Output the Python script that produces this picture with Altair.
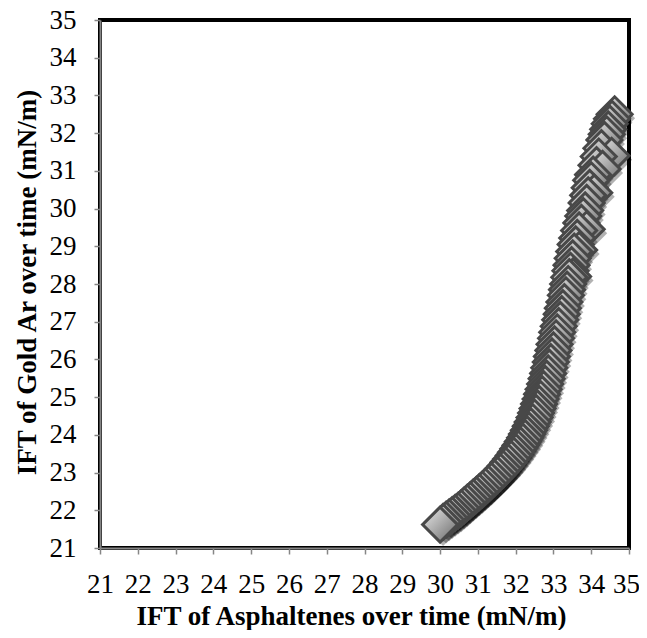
import altair as alt
import pandas as pd

# IFT values, in time order (top-right first, bottom-left last)
asph_ift = [34.62, 34.55, 34.49, 34.45, 34.41, 34.35, 34.27, 34.54, 34.20, 34.14,
            34.30, 34.05, 34.00, 33.96, 34.08, 33.92, 33.88, 33.84, 33.79, 33.74,
            33.88, 33.68, 33.63, 33.59, 33.68, 33.55, 33.51, 33.48, 33.45, 33.52,
            33.42, 33.39, 33.36, 33.33, 33.29, 33.25, 33.22, 33.18, 33.14, 33.10,
            33.07, 33.03, 33.00, 32.96, 32.93, 32.89, 32.86, 32.82, 32.78, 32.74,
            32.70, 32.66, 32.62, 32.58, 32.54, 32.50, 32.45, 32.40, 32.35, 32.30,
            32.25, 32.19, 32.13, 32.07, 32.01, 31.95, 31.88, 31.81, 31.74, 31.67,
            31.60, 31.52, 31.44, 31.36, 31.28, 31.20, 31.12, 31.04, 30.96, 30.88,
            30.80, 30.72, 30.64, 30.56, 30.48, 30.40, 30.32, 30.24, 30.16, 30.08,
            30.00]
gold_ift = [32.50, 32.38, 32.25, 32.10, 31.97, 31.82, 31.60, 31.40, 31.38, 31.15,
            31.05, 30.90, 30.75, 30.55, 30.42, 30.35, 30.15, 29.95, 29.80, 29.62,
            29.45, 29.42, 29.22, 29.05, 28.90, 28.86, 28.68, 28.50, 28.35, 28.20,
            28.18, 28.00, 27.85, 27.70, 27.52, 27.36, 27.20, 27.05, 26.88, 26.72,
            26.56, 26.40, 26.24, 26.08, 25.93, 25.78, 25.63, 25.49, 25.35, 25.21,
            25.08, 24.95, 24.82, 24.70, 24.58, 24.46, 24.34, 24.23, 24.12, 24.02,
            23.92, 23.82, 23.72, 23.63, 23.54, 23.45, 23.36, 23.27, 23.18, 23.10,
            23.02, 22.94, 22.86, 22.78, 22.70, 22.63, 22.55, 22.48, 22.41, 22.34,
            22.27, 22.20, 22.13, 22.06, 21.99, 21.93, 21.87, 21.81, 21.75, 21.69,
            21.62]
tick_values = list(range(21, 36))

df = pd.DataFrame({"asph": asph_ift, "gold": gold_ift, "order": list(range(len(asph_ift)))})

axis_common = dict(
    values=tick_values,
    grid=False,
    labelOverlap=False,
    labelFlush=False,
    domainColor="#868686",
    domainWidth=2,
    tickColor="#868686",
    tickSize=6,
    tickWidth=1.5,
    labelFont="Liberation Serif",
    labelFontSize=27,
    labelColor="black",
    titleFont="Liberation Serif",
    titleFontSize=27,
    titleFontWeight="bold",
    titleColor="black",
    titleBaseline="alphabetic",
)

x_enc = alt.X("asph:Q", scale=alt.Scale(domain=[21, 35], nice=False, zero=False),
              axis=alt.Axis(title="IFT of Asphaltenes over time (mN/m)", labelPadding=17,
                            labelOffset={"condition": {"test": "datum.value == 35", "value": -3},
                                         "value": 0},
                            titleX=251, titleY=76, titleAlign="center", **axis_common))
y_enc = alt.Y("gold:Q", scale=alt.Scale(domain=[21, 35], nice=False, zero=False),
              axis=alt.Axis(title="IFT of Gold Ar over time (mN/m)", labelPadding=18,
                            titleX=-65, titleY=262, titleAngle=-90, titleAlign="center",
                            **axis_common))

gradient = alt.LinearGradient(
    gradient="linear",
    stops=[alt.GradientStop(color="#ececec", offset=0),
           alt.GradientStop(color="#aaaaaa", offset=0.5),
           alt.GradientStop(color="#666666", offset=1)],
    x1=0, y1=0, x2=1, y2=1,
)

shadow = alt.Chart(df).mark_point(
    shape="diamond", filled=True, size=1225, color="black", opacity=0.3,
    xOffset=3, yOffset=4,
).encode(x=x_enc, y=y_enc, order="order:Q")

points = alt.Chart(df).mark_point(
    shape="diamond", filled=True, size=1225, fill=gradient, fillOpacity=1,
    stroke="#484848", strokeWidth=3, opacity=1,
).encode(x=x_enc, y=y_enc, order="order:Q")

chart = alt.layer(shadow, points).properties(
    width=529, height=528,
    autosize=alt.AutoSizeParams(type="none"),
    padding={"left": 92, "top": 12, "right": 10, "bottom": 82},
).configure_view(stroke="black", strokeWidth=4)

chart.save("out.html", embed_options={"renderer": "svg", "actions": False})
